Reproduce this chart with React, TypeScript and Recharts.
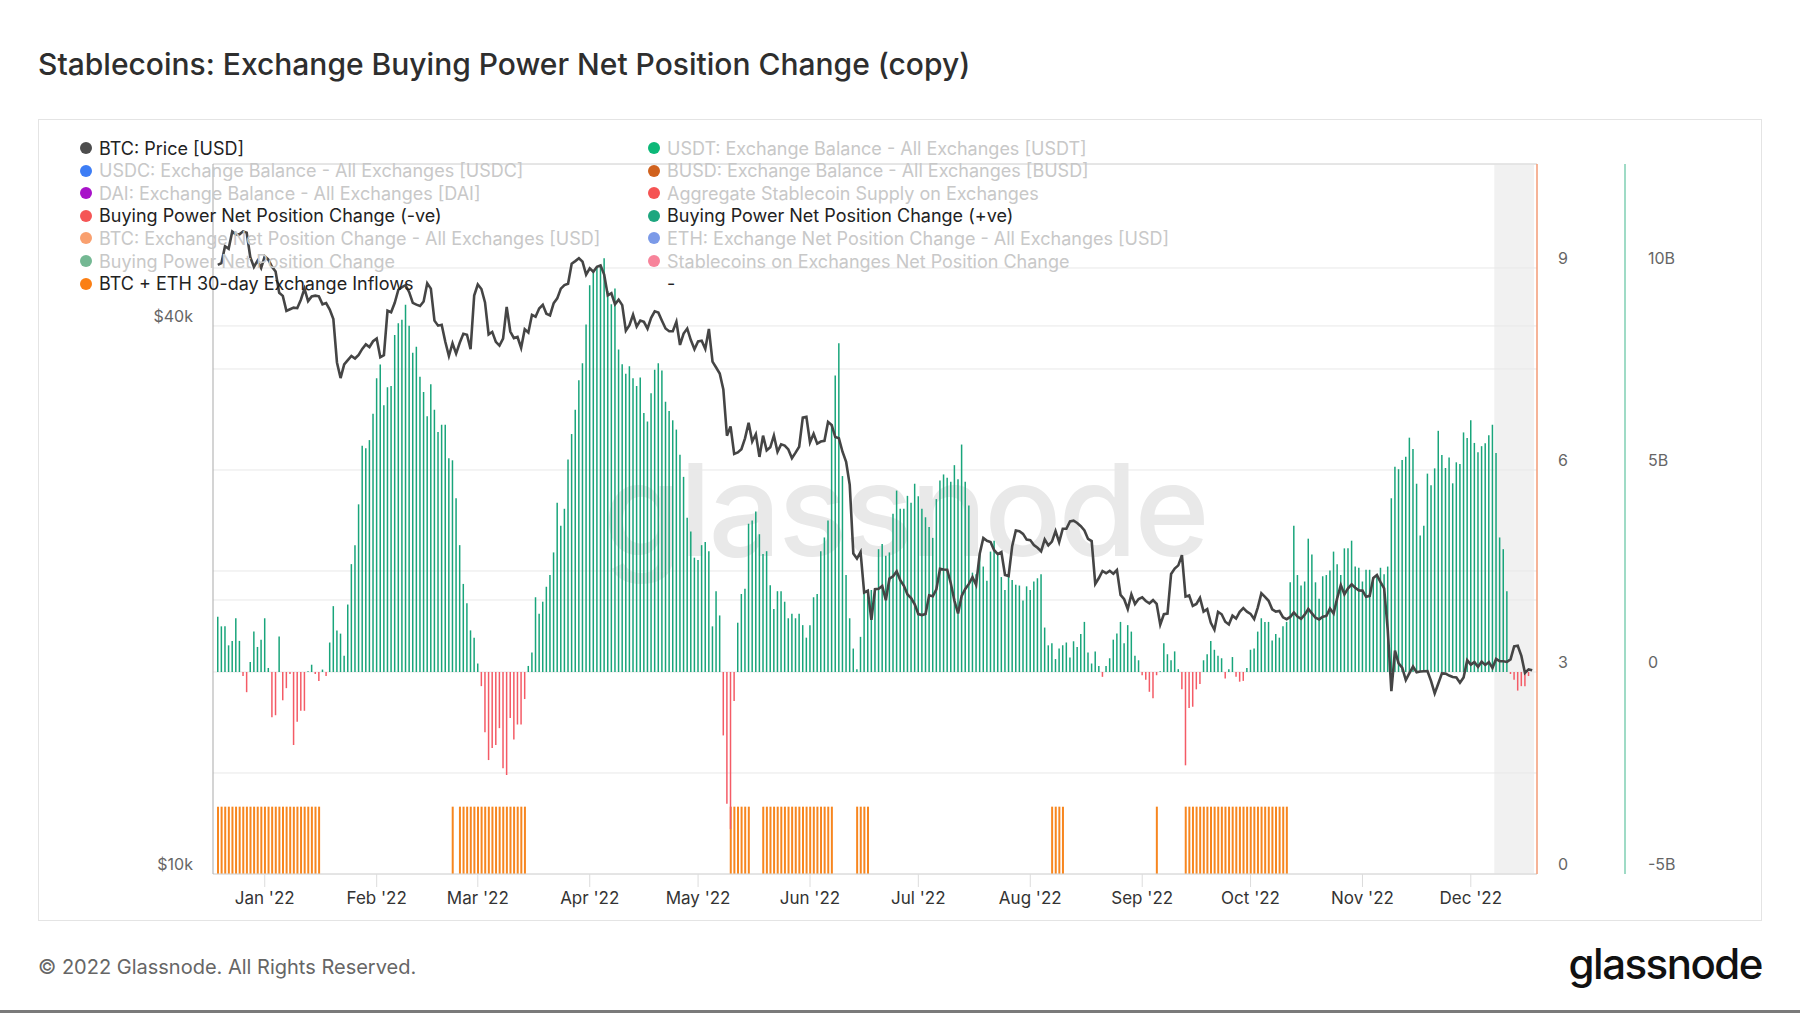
import React from "react";
import {
  ComposedChart,
  Bar,
  Line,
  XAxis,
  YAxis,
  CartesianGrid,
  ReferenceArea,
  ReferenceLine,
  Cell,
} from "recharts";

// daily series, first day is 2021-12-19
const START = { y: 2021, m: 11, d: 19 };

// Buying power net position change, in billions USD
const NET_POSITION_B = [
  // Dec 19 - Dec 31
  1.37, 1.13, 1.13, 0.66, 0.77, 1.33, 0.77, -0.1, -0.5, 0.25, 1.0, 0.62, 0.8,
  // Jan
  1.33, 0.1, -1.12, -1.07, 0.88, -0.7, -0.4, -0.05, -1.81, -1.23, -0.96, -0.96, 0.02, 0.18, -0.05, -0.22,
  0.06, -0.1, 0.73, 1.63, 1.03, 0.95, 0.4, 1.67, 2.67, 3.14, 4.15,
  // Feb
  5.6, 5.54, 5.74, 6.39, 7.27, 7.61, 6.6, 7.05, 7.08, 8.34, 8.63, 8.72, 9.09, 8.57, 7.9, 8.05, 7.31, 6.93,
  6.33, 7.12, 6.49, 5.94, 6.12, 6.12, 5.29, 5.24, 4.3, 3.14,
  // Mar
  2.18, 1.7, 1.03, 0.85, 0.21, -0.35, -1.49, -2.18, -1.88, -1.81, -1.39, -2.38, -2.55, -1.14, -1.67, -1.3,
  -1.3, -0.67, 0.15, 0.48, 1.85, 1.44, 1.74, 2.11, 2.4, 2.96, 4.19, 3.62, 4.04, 5.26, 5.89,
  // Apr
  6.49, 7.22, 7.64, 8.6, 9.57, 9.94, 10.03, 10.07, 10.24, 9.43, 9.1, 9.49, 7.98, 7.62, 7.38, 7.57, 7.27,
  7.08, 7.29, 6.41, 6.2, 6.9, 7.48, 7.64, 7.46, 6.69, 6.46, 6.23, 6.0, 5.38,
  // May
  4.83, 3.82, 3.48, 2.83, 2.77, 3.14, 3.22, 2.99, 1.13, 2.0, 1.4, -1.57, -3.26, -3.89, -0.72, 1.22, 1.93,
  2.06, 3.67, 3.75, 3.97, 3.41, 2.92, 2.99, 2.15, 1.56, 2.0, 2.0, 1.74, 1.33, 1.44,
  // Jun
  1.33, 1.44, 1.16, 0.85, 1.16, 1.85, 1.93, 2.99, 3.33, 3.75, 6.13, 7.34, 8.14, 4.85, 2.4, 1.33, 0.58,
  0.07, 0.87, 2.03, 2.0, 2.03, 2.07, 3.04, 3.17, 2.88, 2.96, 3.92, 4.49, 4.04,
  // Jul
  4.04, 4.36, 4.19, 4.66, 4.35, 4.04, 3.83, 3.59, 3.32, 4.28, 4.74, 4.89, 4.81, 4.71, 5.12, 4.77, 5.63,
  4.71, 4.12, 2.46, 2.42, 2.91, 2.61, 2.26, 2.98, 3.25, 2.93, 2.35, 2.03, 2.37, 2.28,
  // Aug
  2.16, 2.14, 1.77, 2.12, 2.03, 2.24, 2.32, 2.42, 1.1, 0.66, 0.71, 0.32, 0.58, 0.66, 0.73, 0.36, 0.76,
  0.62, 0.94, 1.24, 0.48, 0.21, 0.51, 0.15, -0.12, 0.15, 0.34, 0.8, 0.95, 1.24, 0.71,
  // Sep
  1.16, 1.0, 0.4, 0.29, -0.08, -0.19, -0.49, -0.65, -0.08, 0.02, 0.71, 0.44, 0.29, 0.51, 0.07, -0.43,
  -2.31, -0.89, -0.86, -0.43, -0.3, 0.29, 0.44, 0.77, 0.55, 0.4, 0.34, -0.16, 0.07, 0.37,
  // Oct
  -0.12, -0.24, -0.22, 0.1, 0.55, 0.58, 1.0, 1.33, 1.24, 1.24, 0.78, 0.94, 0.85, 1.13, 1.24, 2.22, 3.62,
  2.4, 2.14, 2.24, 3.3, 2.91, 2.22, 1.81, 2.37, 2.4, 2.51, 2.98, 2.67, 2.4, 3.06,
  // Nov
  3.06, 3.25, 2.61, 2.58, 2.24, 2.53, 2.53, 2.26, 2.36, 2.58, 2.42, 2.61, 4.3, 5.08, 5.02, 5.25, 5.33,
  5.8, 5.52, 4.66, 3.38, 3.62, 4.91, 4.62, 5.04, 5.97, 5.37, 5.05, 5.31, 4.67,
  // Dec 1 - Dec 18
  5.19, 5.15, 5.93, 5.79, 6.23, 5.67, 5.44, 5.59, 5.66, 5.86, 6.12, 5.42, 3.33, 3.04, 2.0, -0.05, -0.19,
  -0.46, -0.35, -0.35, -0.1,
].slice(0, 365);

// BTC price, USD
const BTC_PRICE = [
  46680, 46880, 48940, 48630, 50780, 50430, 50430, 50810, 50640, 47590, 46440, 47180, 46310,
  47690, 47300, 46460, 45900, 43500, 43160, 41560, 41730, 41900, 41840, 42740, 43950, 42590, 43100,
  43180, 43110, 42250, 42380, 41690, 40700, 36470, 35060, 36290, 36690, 37080, 36840, 37180, 37740,
  38180, 37920, 38480,
  38740, 36950, 37150, 41570, 41410, 42410, 43840, 44120, 44340, 43570, 42410, 42220, 42070, 42550,
  44550, 43960, 40540, 40030, 40120, 38430, 37070, 38290, 37300, 38330, 39220, 39120, 37710, 43190,
  44420, 43920, 42450, 39150, 39400, 38420, 38060, 38740, 41980, 39440, 38790, 38900, 37850, 39670,
  39340, 41140, 40950, 41800, 42190, 41250, 41080, 42360, 42890, 43960, 44350, 44500, 46820, 47130,
  47470, 47060, 45540,
  46280, 45870, 46450, 46620, 45550, 43210, 43450, 42250, 42750, 42160, 39520, 40080, 41150, 39940,
  40550, 40410, 39720, 40830, 41500, 41370, 40530, 39740, 39470, 39470, 40430, 38120, 39240, 39740,
  38600, 37710,
  38470, 38530, 37750, 39690, 36550, 36010, 35470, 34060, 30300, 31020, 28940, 29050, 29280, 30100,
  31310, 29860, 30420, 28720, 30310, 29200, 29430, 30320, 29100, 29650, 29560, 29270, 28630, 29030,
  29470, 31730, 31790,
  29800, 30450, 29700, 29860, 29910, 31370, 31130, 30200, 30110, 29100, 28370, 26760, 22490, 22210,
  22580, 20380, 20470, 19020, 20550, 20570, 20720, 19990, 21110, 21230, 21500, 21030, 20730, 20280,
  20100, 19780,
  19300, 19250, 19300, 20240, 20190, 20550, 21640, 21600, 21590, 20850, 19960, 19330, 20210, 20570,
  20830, 21190, 20780, 22480, 23390, 23230, 23160, 22680, 22460, 22580, 21310, 21250, 22930, 23840,
  23800, 23640, 23300,
  23270, 22980, 22820, 22620, 23310, 22960, 23180, 23810, 23150, 23950, 23950, 24400, 24440, 24300,
  24100, 23850, 23340, 23210, 20830, 21140, 21520, 21400, 21530, 21370, 21570, 20260, 20040, 19550,
  20290, 19800, 20050,
  20130, 19950, 19830, 19990, 19800, 18790, 19290, 19320, 21360, 21650, 21830, 22400, 20170, 20230,
  19700, 19800, 20110, 19420, 19540, 18880, 18550, 19410, 19290, 18930, 18800, 19220, 19080, 19410,
  19590, 19420,
  19310, 19060, 19620, 20340, 20160, 19960, 19530, 19420, 19450, 19140, 19050, 19160, 19380, 19180,
  19070, 19270, 19550, 19330, 19120, 19040, 19170, 19210, 19570, 19330, 20090, 20770, 20290, 20600,
  20810, 20630, 20490,
  20480, 20160, 20210, 21150, 21300, 20920, 20600, 18540, 15880, 17590, 17040, 16850, 16330, 16620,
  16900, 16660, 16690, 16700, 16710, 16290, 15790, 16190, 16610, 16600, 16520, 16460, 16440, 16220,
  16440, 17170,
  16980, 17090, 16890, 17110, 16970, 17090, 16840, 17230, 17130, 17130, 17100, 17210, 17780, 17810,
  17360, 16630, 16780, 16740,
];

// days flagged by the BTC + ETH 30-day exchange inflow signal
const INFLOW_SPANS: [string, string][] = [
  ["2021-12-19", "2022-01-16"],
  ["2022-02-22", "2022-02-22"],
  ["2022-02-24", "2022-03-14"],
  ["2022-05-10", "2022-05-15"],
  ["2022-05-19", "2022-06-07"],
  ["2022-06-14", "2022-06-17"],
  ["2022-08-07", "2022-08-10"],
  ["2022-09-05", "2022-09-05"],
  ["2022-09-13", "2022-10-11"],
];

const MONTH_TICKS = [
  "2022-01-01", "2022-02-01", "2022-03-01", "2022-04-01", "2022-05-01", "2022-06-01",
  "2022-07-01", "2022-08-01", "2022-09-01", "2022-10-01", "2022-11-01", "2022-12-01",
];
const MONTH_LABELS = [
  "Jan '22", "Feb '22", "Mar '22", "Apr '22", "May '22", "Jun '22",
  "Jul '22", "Aug '22", "Sep '22", "Oct '22", "Nov '22", "Dec '22",
];

const PRICE_TICKS = [10000, 20000, 40000];
const PRICE_LABELS: Record<number, string> = { 10000: "$10k", 40000: "$40k" };
const BP_TICKS = [-5, -2.5, 0, 2.5, 5, 7.5, 10];
const BP_LABELS: Record<string, string> = { "-5": "-5B", "0": "0", "5": "5B", "10": "10B" };
const INFLOW_TICKS = [0, 3, 6, 9];

const BP_MAX = 12.574;
const GREEN = "#19a57b";
const RED = "#f45b66";
const ORANGE = "#f7861f";

const LEGEND_LEFT = [
  { label: "BTC: Price [USD]", color: "#4d4d4d", on: true },
  { label: "USDC: Exchange Balance - All Exchanges [USDC]", color: "#3d7df5", on: false },
  { label: "DAI: Exchange Balance - All Exchanges [DAI]", color: "#a812c9", on: false },
  { label: "Buying Power Net Position Change (-ve)", color: "#f55656", on: true },
  { label: "BTC: Exchange Net Position Change - All Exchanges [USD]", color: "#f9a06f", on: false },
  { label: "Buying Power Net Position Change", color: "#74b893", on: false },
  { label: "BTC + ETH 30-day Exchange Inflows", color: "#fb7f14", on: true },
];
const LEGEND_RIGHT = [
  { label: "USDT: Exchange Balance - All Exchanges [USDT]", color: "#0cb878", on: false },
  { label: "BUSD: Exchange Balance - All Exchanges [BUSD]", color: "#d0621e", on: false },
  { label: "Aggregate Stablecoin Supply on Exchanges", color: "#f55353", on: false },
  { label: "Buying Power Net Position Change (+ve)", color: "#1ea67f", on: true },
  { label: "ETH: Exchange Net Position Change - All Exchanges [USD]", color: "#7b9ae8", on: false },
  { label: "Stablecoins on Exchanges Net Position Change", color: "#f7839a", on: false },
  { label: "-", color: null, on: true },
];

const FONT = "Inter, 'Noto Sans', sans-serif";

const dates = BTC_PRICE.map((_, i) =>
  new Date(Date.UTC(START.y, START.m, START.d + i)).toISOString().slice(0, 10)
);

const rows = dates.map((date, i) => ({
  date,
  price: BTC_PRICE[i],
  net: NET_POSITION_B[i],
  inflow: INFLOW_SPANS.some(([a, b]) => date >= a && date <= b) ? 1 : null,
}));

const PriceTick = ({ x, y, payload }: any) =>
  PRICE_LABELS[payload.value] ? (
    <text x={x} y={y - 10} textAnchor="end" dominantBaseline="central" fill="#666" fontSize={16} fontFamily={FONT}>
      {PRICE_LABELS[payload.value]}
    </text>
  ) : (
    <g />
  );

const BpTick = ({ x, y, payload }: any) =>
  BP_LABELS[String(payload.value)] ? (
    <text x={x} y={y - 10} textAnchor="start" dominantBaseline="central" fill="#666" fontSize={16} fontFamily={FONT}>
      {BP_LABELS[String(payload.value)]}
    </text>
  ) : (
    <g />
  );

const InflowTick = ({ x, y, payload }: any) => (
  <text x={x} y={y - 10} textAnchor="start" dominantBaseline="central" fill="#666" fontSize={16} fontFamily={FONT}>
    {payload.value}
  </text>
);

function LegendColumn({ items, left }: { items: typeof LEGEND_LEFT; left: number }) {
  return (
    <>
      {items.map((it, i) => (
        <div
          key={it.label + i}
          style={{
            position: "absolute",
            left,
            top: 148 + i * 22.6 - 11,
            height: 22,
            display: "flex",
            alignItems: "center",
            whiteSpace: "nowrap",
            fontSize: 18,
            color: it.on ? "#222" : "#c8c8c8",
          }}
        >
          <span
            style={{
              width: 12,
              height: 12,
              borderRadius: 6,
              background: it.color || "transparent",
              marginRight: 7,
              display: "inline-block",
            }}
          />
          <span>{it.label}</span>
        </div>
      ))}
    </>
  );
}

export default function App() {
  return (
    <div
      style={{
        position: "absolute",
        left: 0,
        top: 0,
        width: 1800,
        height: 1013,
        background: "#fff",
        fontFamily: FONT,
        overflow: "hidden",
      }}
    >
      <div style={{ position: "absolute", left: 38, top: 46, fontSize: 30, fontWeight: 500, color: "#2e2e2e" }}>
        Stablecoins: Exchange Buying Power Net Position Change (copy)
      </div>

      <div
        style={{
          position: "absolute",
          left: 38,
          top: 119,
          width: 1724,
          height: 802,
          border: "1px solid #e4e4e4",
          boxSizing: "border-box",
        }}
      />

      {/* watermark */}
      <div
        style={{
          position: "absolute",
          left: 603,
          top: 432,
          fontSize: 128,
          fontWeight: 500,
          color: "#e9e9e9",
          letterSpacing: -3,
        }}
      >
        glassnode
      </div>

      <div style={{ position: "absolute", left: 38, top: 119 }}>
        <ComposedChart
          width={1724}
          height={802}
          data={rows}
          margin={{ top: 45, right: 37, bottom: 7, left: 115 }}
          barGap={-2}
        >
          <CartesianGrid yAxisId="bp" vertical={false} stroke="#e8e8e8" />
          <CartesianGrid yAxisId="price" vertical={false} stroke="#e8e8e8" />
          <XAxis
            dataKey="date"
            ticks={MONTH_TICKS}
            interval={0}
            padding={{ left: 3, right: 3 }}
            tickFormatter={(v) => MONTH_LABELS[MONTH_TICKS.indexOf(v)] ?? ""}
            tick={{ fill: "#333", fontSize: 17, fontFamily: FONT }}
            tickSize={13}
            tickMargin={5}
            height={40}
            stroke="#dcdcdc"
          />
          <YAxis
            yAxisId="price"
            orientation="left"
            scale="log"
            type="number"
            domain={[10000, 60250]}
            allowDataOverflow
            ticks={PRICE_TICKS}
            interval={0}
            width={60}
            tickSize={0}
            tickMargin={20}
            tick={<PriceTick />}
            stroke="#a9a9a9"
          />
          <YAxis
            yAxisId="bp"
            orientation="right"
            type="number"
            domain={[-5, BP_MAX]}
            allowDataOverflow
            ticks={BP_TICKS}
            interval={0}
            width={100}
            tickSize={0}
            tickMargin={23}
            tick={<BpTick />}
            axisLine={{ stroke: "#7fcfb3", strokeWidth: 1.5 }}
          />
          <YAxis
            yAxisId="axInflow"
            orientation="right"
            type="number"
            domain={[0, 10.545]}
            allowDataOverflow
            ticks={INFLOW_TICKS}
            interval={0}
            width={88}
            tickSize={0}
            tickMargin={21}
            tick={<InflowTick />}
            axisLine={{ stroke: "#f39b76", strokeWidth: 1.5 }}
          />
          <ReferenceLine yAxisId="bp" y={BP_MAX} stroke="#dedede" />

          <Bar yAxisId="axInflow" dataKey="inflow" barSize={2} fill={ORANGE} isAnimationActive={false} />
          <Bar yAxisId="bp" dataKey="net" barSize={1.5} isAnimationActive={false}>
            {rows.map((r, i) => (
              <Cell key={i} fill={r.net >= 0 ? GREEN : RED} />
            ))}
          </Bar>
          <Line
            yAxisId="price"
            dataKey="price"
            stroke="#454545"
            strokeWidth={2.6}
            dot={false}
            isAnimationActive={false}
          />
          <ReferenceArea
            yAxisId="bp"
            x1={dates[354]}
            x2={dates[dates.length - 1]}
            y1={-5}
            y2={BP_MAX}
            fill="#e8e8e8"
            fillOpacity={0.6}
            stroke="none"
            ifOverflow="visible"
          />
        </ComposedChart>
      </div>

      <LegendColumn items={LEGEND_LEFT} left={80} />
      <LegendColumn items={LEGEND_RIGHT} left={648} />

      <div style={{ position: "absolute", left: 38, top: 955, fontSize: 20, color: "#666" }}>
        © 2022 Glassnode. All Rights Reserved.
      </div>
      <div
        style={{
          position: "absolute",
          right: 38,
          top: 938,
          fontSize: 42,
          fontWeight: 500,
          color: "#111",
          letterSpacing: -1.5,
        }}
      >
        glassnode
      </div>
      <div style={{ position: "absolute", left: 0, top: 1010, width: 1800, height: 3, background: "#7a7a7a" }} />
    </div>
  );
}
